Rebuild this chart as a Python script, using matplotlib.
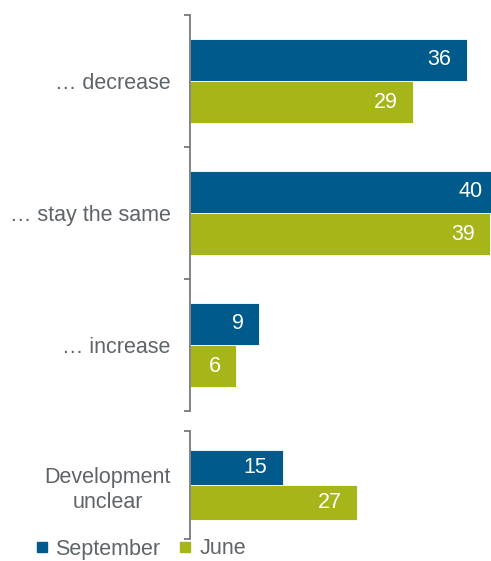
import matplotlib.pyplot as plt
from matplotlib.lines import Line2D

# values
categories = ['\u2026 decrease', '\u2026 stay the same', '\u2026 increase']
september = [36, 40, 9]
june = [29, 39, 6]

unclear_label = 'Development\nunclear'
unclear_september = 15
unclear_june = 27

series_names = ['September', 'June']
BLUE = '#005A8C'
GREEN = '#A5B51A'
TEXT = '#5F6469'
AXIS = '#6E6E6E'
FS = 15.5

plt.rcParams['font.family'] = ['Liberation Sans', 'DejaVu Sans']

W, H = 491, 561
fig = plt.figure(figsize=(W / 100, H / 100), dpi=100)


def px_axes(left, top, right, bottom):
    return fig.add_axes([left / W, 1 - bottom / H, (right - left) / W, (bottom - top) / H])


def style(ax, n):
    for side in ('top', 'right', 'bottom'):
        ax.spines[side].set_visible(False)
    ax.spines['left'].set_color(AXIS)
    ax.spines['left'].set_linewidth(1.2)
    ax.set_ylim(n - 0.5, -0.5)
    ax.set_xticks([])
    ax.set_yticks([i - 0.5 for i in range(n + 1)], minor=True)
    ax.tick_params(axis='y', which='minor', length=4, width=1.2, color=AXIS, direction='out')
    ax.tick_params(axis='y', which='major', length=0, pad=13.5, labelsize=FS, labelcolor=TEXT)


def draw(ax, labels, sep, jun):
    h = 0.32
    ys = list(range(len(labels)))
    for vals, col, off in ((sep, BLUE, -h / 2), (jun, GREEN, h / 2)):
        ax.barh([y + off for y in ys], vals, height=h, color=col,
                edgecolor='white', linewidth=0.6, clip_on=True)
        for y, v in zip(ys, vals):
            ax.annotate(str(v), (v, y + off), xytext=(-11, 0), textcoords='offset points',
                        ha='right', va='center', color='white', fontsize=FS,
                        annotation_clip=False)
    ax.set_yticks(ys)
    ax.set_yticklabels(labels, multialignment='center', linespacing=1.3)


top = px_axes(189.5, 15, 491, 411)
style(top, len(categories))
top.set_xlim(0, (491 - 189.5) / 7.7)
draw(top, categories, september, june)

bot = px_axes(189.5, 431, 491, 539)
style(bot, 1)
bot.set_xlim(0, (491 - 189.5) / 6.2)
draw(bot, [unclear_label], [unclear_september], [unclear_june])

handles = [Line2D([], [], ls='', marker='s', markersize=6.5, color=c) for c in (BLUE, GREEN)]
fig.legend(handles, series_names, loc='center left', bbox_to_anchor=(34 / W, 1 - 549 / H),
           ncol=2, frameon=False, fontsize=FS, labelcolor=TEXT, handlelength=0.7,
           handletextpad=0.3, columnspacing=0.8, borderaxespad=0, borderpad=0)

fig.savefig('out.png', dpi=100)
